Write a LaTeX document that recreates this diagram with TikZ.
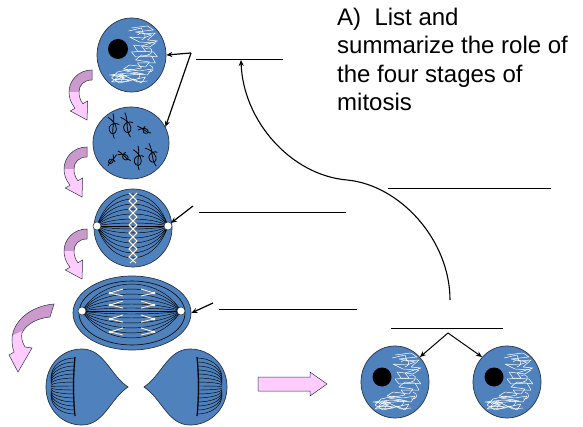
\documentclass[tikz,border=0pt]{standalone}
\usepackage{fontspec}
\setmainfont{Liberation Sans}
\usetikzlibrary{arrows.meta,shapes.geometric}
\definecolor{cellblue}{RGB}{79,129,189}
\definecolor{cellline}{RGB}{40,52,70}
\definecolor{pinkarrow}{RGB}{255,204,255}
\definecolor{mauve}{RGB}{204,153,204}

% curved block arrow, local frame: origin at the centre of its tail end
\newcommand\bendshape[1]{\path[#1] (0,-5) .. controls (-14,-5) and (-23,6) .. (-23,17)
  .. controls (-23,23) and (-21,28) .. (-17,33.3) -- (-21.7,36) -- (-5,45) -- (-4.3,26)
  -- (-9.1,28.7) .. controls (-12,25) and (-13,21) .. (-13,17)
  .. controls (-13,10) and (-8,5) .. (0,5) -- cycle;}
% the wide curved arrow next to the last stage
\newcommand\wideshape[1]{\path[#1] (54,304) .. controls (30,306) and (12,322) .. (12,340)
  .. controls (12,345) and (13,349) .. (14,352) -- (9,355) -- (18,372) -- (32,348) -- (25,347)
  .. controls (22,342) and (21,337) .. (22,333) .. controls (26,324) and (38,318) .. (50,317) -- cycle;}

\begin{document}
\begin{tikzpicture}[x=1pt,y=-1pt,
  cell/.style={ellipse,draw=cellline,line width=0.7pt,fill=cellblue,inner sep=0pt},
  pole/.style={circle,draw=cellline,line width=0.5pt,fill=white,minimum size=8pt,inner sep=0pt},
  fiber/.style={black,line width=0.45pt},
  blank/.style={black,line width=0.7pt},
  conn/.style={black,line width=1.2pt,-{Stealth[length=6pt,width=5pt]}},
  chrom/.style={black,line width=0.8pt},
  arrowbox/.style={draw=cellline,line width=0.5pt,fill=pinkarrow},
  chromatin/.pic={
    \draw[white,line width=0.5pt,line join=round]
      (0,-27) -- (16,-29) -- (22,-25) -- (4,-23) -- (20,-20) -- (12,-17) -- (-2,-18)
      -- (8,-13) -- (24,-12) -- (18,-8) -- (2,-10) -- (6,-4) -- (22,-3) -- (26,2)
      -- (10,0) -- (4,5) -- (18,7) -- (14,12) -- (-2,10) -- (-8,14) -- (8,16) -- (20,14)
      -- (16,20) -- (-4,18) -- (-22,20) -- (-6,22) -- (-18,25) -- (2,24) -- (10,28)
      -- (14,22) -- (-12,28) -- (-20,23) -- (-14,17) -- (0,14);
    \draw[white,line width=0.5pt,line join=round]
      (-3,-24) -- (10,-27) -- (12,-21) -- (24,-22) -- (16,-15) -- (26,-14) -- (10,-9)
      -- (14,-4) -- (0,-3) -- (4,2) -- (20,1) -- (24,8) -- (6,8) -- (10,13) -- (-6,16)
      -- (12,19) -- (-14,21) -- (-2,26) -- (-20,27) -- (-10,19) -- (6,27) -- (16,26);
    \draw[white,line width=0.5pt] (6,-20) .. controls (12,-26) and (18,-18) .. (10,-15)
      (14,-6) .. controls (20,-10) and (24,-2) .. (16,0)
      (2,20) .. controls (6,14) and (12,20) .. (6,24)
      (-16,22) .. controls (-12,16) and (-6,22) .. (-10,26)
      (18,10) .. controls (24,12) and (22,18) .. (16,17);
  },
  chromo/.pic={
    \draw[chrom] (0,-10) .. controls (2,-3) and (-2,3) .. (1,10);
    \draw[chrom] (-4,-7) .. controls (2,-3) and (4,2) .. (2,5)
      .. controls (0,8) and (-4,5) .. (-3,1) .. controls (-2,-2) and (3,-3) .. (5,-1);
  }]
\useasboundingbox (0,0) rectangle (583,427);

% ---- interphase ----
\node[cell,minimum width=69pt,minimum height=74pt] (inter) at (131.5,55) {};
\fill[black] (118,49) circle[radius=10pt];
\pic at (131.5,55) {chromatin};

% ---- prophase ----
\node[cell,minimum width=76pt,minimum height=72pt] (pro) at (131,143) {};
\pic[scale=1.25] at (113,126) {chromo};
\pic[scale=1.25,rotate=10] at (127,125) {chromo};
\pic[scale=0.75,rotate=60] at (144,130) {chromo};
\pic[scale=0.7,rotate=-40] at (112,160) {chromo};
\pic[scale=0.8,rotate=50] at (124,156) {chromo};
\pic[scale=1.2] at (138,158) {chromo};
\pic[scale=1.2,rotate=15] at (152,155) {chromo};

% ---- metaphase ----
\node[cell,minimum width=78pt,minimum height=78pt] (meta) at (133,228) {};
\coordinate (mL) at (97,226);
\coordinate (mR) at (168,226);
\draw[fiber] (mL) -- (mR);
\foreach \h in {3,7,12,17,22,27,32} {
  \draw[fiber] (mL) .. controls +(14,-\h*1.33) and +(-14,-\h*1.33) .. (mR);
  \draw[fiber] (mL) .. controls +(14,\h*1.33) and +(-14,\h*1.33) .. (mR);
}
\foreach \w/\c in {1.8/gray,0.8/white} {
  \draw[\c,line width=\w pt,line join=round] (129,193) -- (137,201) -- (129,209) -- (137,217)
    -- (129,225) -- (137,233) -- (129,241) -- (137,249) -- (129,257) -- (136,263);
  \draw[\c,line width=\w pt,line join=round] (137,193) -- (129,201) -- (137,209) -- (129,217)
    -- (137,225) -- (129,233) -- (137,241) -- (129,249) -- (137,257) -- (130,263);
}
\node[pole] (mpl) at (mL) {};
\node[pole] (mpr) at (mR) {};

% ---- anaphase ----
\node[cell,minimum width=118pt,minimum height=74pt] (ana) at (132,313) {};
\draw[fiber,line width=0.6pt] (132,313) ellipse[x radius=53pt,y radius=32pt];
\coordinate (aL) at (82,311);
\coordinate (aR) at (181,311);
\draw[fiber] (aL) -- (aR);
\foreach \h in {3,7,12,17,22,27} {
  \draw[fiber] (aL) .. controls +(22,-\h*1.33) and +(-22,-\h*1.33) .. (aR);
  \draw[fiber] (aL) .. controls +(22,\h*1.33) and +(-22,\h*1.33) .. (aR);
}
\foreach \y in {293,305,319,332} {
  \foreach \w/\c in {1.6/gray,0.7/white} {
    \draw[\c,line width=\w pt] (123,\y-4) -- (110,\y) -- (123,\y+3);
    \draw[\c,line width=\w pt] (141,\y-4) -- (154,\y) -- (141,\y+3);
  }
  \fill[white] (110,\y) circle[radius=1.3pt] (154,\y) circle[radius=1.3pt];
}
\node[pole] (apl) at (aL) {};
\node[pole] (apr) at (aR) {};

% ---- telophase ----
\draw[fill=cellblue,draw=cellline,line width=0.7pt] (128,387) .. controls (110,375) and (104,349) .. (82,349)
  .. controls (61,349) and (46,366) .. (46,387) .. controls (46,408) and (61,425) .. (82,425)
  .. controls (104,425) and (110,399) .. (128,387) -- cycle;
\draw[fill=cellblue,draw=cellline,line width=0.7pt] (144,387) .. controls (162,375) and (168,349) .. (190,349)
  .. controls (211,349) and (227,366) .. (227,387) .. controls (227,408) and (211,425) .. (190,425)
  .. controls (168,425) and (162,399) .. (144,387) -- cycle;
\foreach \d in {-29,-25,...,29} {
  \draw[fiber] (75,387+\d) .. controls (62,387+\d) and (51,387+0.75*\d) .. (51,387+0.3*\d);
  \draw[fiber] (197,387+\d) .. controls (210,387+\d) and (222,387+0.75*\d) .. (222,387+0.3*\d);
}
\draw[black,line width=1.2pt] (75,357) .. controls (73,377) and (73,397) .. (75,416);
\draw[black,line width=1.2pt] (197,357) .. controls (199,377) and (199,397) .. (197,416);

% ---- daughter cells ----
\node[cell,minimum width=68pt,minimum height=72pt] (d1) at (395,382) {};
\fill[black] (382,377) circle[radius=9.5pt];
\pic at (395,382) {chromatin};
\node[cell,minimum width=68pt,minimum height=72pt] (d2) at (507,382) {};
\fill[black] (494,377) circle[radius=9.5pt];
\pic at (507,382) {chromatin};

% ---- block arrows between stages ----
\foreach \px/\py in {92/75,87/152,87/234} {
  \begin{scope}[shift={(\px,\py)}]
    \bendshape{fill=pinkarrow}
    \begin{scope}
      \clip (-40,-10) rectangle (5,17);
      \bendshape{fill=mauve}
    \end{scope}
    \bendshape{draw=cellline,line width=0.5pt}
  \end{scope}
}
\wideshape{fill=pinkarrow}
\begin{scope}
  \clip (0,290) -- (60,290) -- (60,328) -- (22,331) -- (0,341) -- cycle;
  \wideshape{fill=mauve}
\end{scope}
\wideshape{draw=cellline,line width=0.5pt}
\draw[arrowbox] (258,377) -- (310,377) -- (310,372) -- (327,384) -- (310,396)
  -- (310,391) -- (258,391) -- cycle;

% ---- answer lines ----
\coordinate (la1) at (196,59);  \coordinate (lb1) at (283,59);
\coordinate (la2) at (388,188); \coordinate (lb2) at (551,188);
\coordinate (la3) at (199,212); \coordinate (lb3) at (346,212);
\coordinate (la4) at (219,309); \coordinate (lb4) at (357,309);
\coordinate (la5) at (391,328); \coordinate (lb5) at (503,328);
\foreach \n in {1,...,5} { \draw[blank] (la\n) -- (lb\n); }

% ---- pointers ----
\coordinate (fork) at (191,53);
\draw[conn] (fork) -- (inter.east);
\draw[conn] (fork) -- (pro.25);
\coordinate (mtail) at (193,206);
\draw[conn] (mtail) -- (mpr.north east);
\coordinate (atail) at (213,303);
\draw[conn] (atail) -- (ana.east);
\coordinate (split) at (448,333);
\draw[conn,line width=1pt] (split) -- (d1.45);
\draw[conn,line width=1pt] (split) -- (d2.135);
\coordinate (ctail) at (450,300);
\coordinate (chead) at (241,60);
\draw[conn,line width=1.1pt] (ctail) .. controls (450,240) and (400,185) .. (347,180)
  .. controls (290,175) and (243,120) .. (chead);

% ---- question ----
\node[anchor=north west,align=left,inner sep=0pt,font=\fontsize{24}{28.5}\selectfont] (task)
  at (337,7.5) {A)\ \ List and\\summarize the role of\\the four stages of\\mitosis};
\end{tikzpicture}
\end{document}
